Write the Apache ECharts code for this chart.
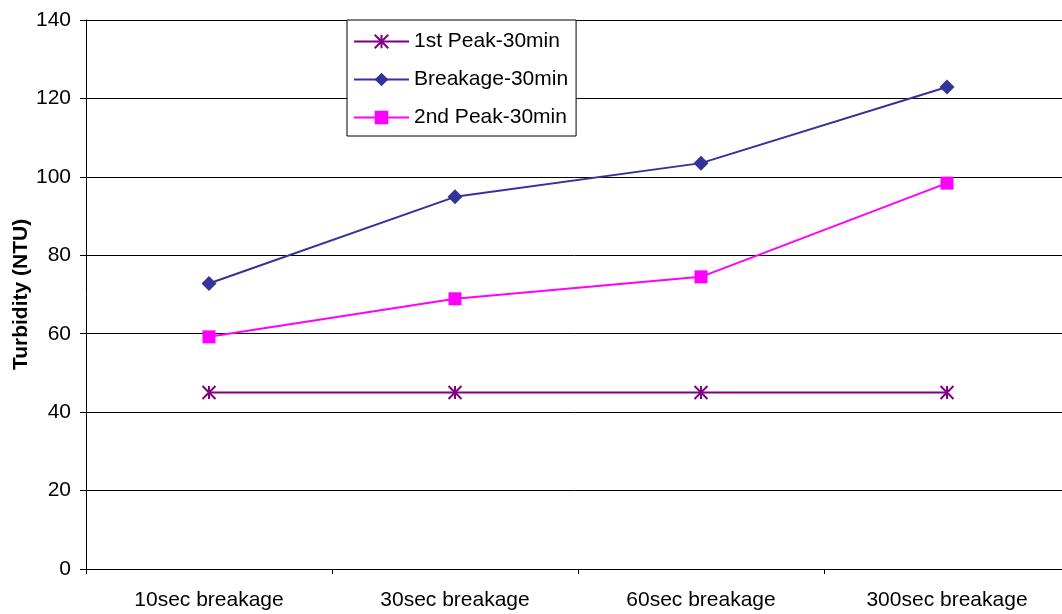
<!DOCTYPE html>
<html>
<head>
<meta charset="utf-8">
<script src="https://cdn.jsdelivr.net/npm/echarts@6/dist/echarts.min.js"></script>
<style>
  html, body { margin: 0; padding: 0; background: #fff; }
  #chart { width: 1062px; height: 614px; }
</style>
</head>
<body>
<div id="chart"></div>
<script>
// Breakage duration categories
const categories = ['10sec breakage', '30sec breakage', '60sec breakage', '300sec breakage'];

// Turbidity readings (NTU)
const firstPeak30 = [45, 45, 45, 45];
const breakage30 = [72.8, 94.9, 103.5, 122.9];
const secondPeak30 = [59.2, 68.9, 74.5, 98.4];

// Y axis scale
const yMin = 0;
const yMax = 140;
const yStep = 20;

const FONT = '"Liberation Sans", Arial, sans-serif';

// Excel-style asterisk marker: two diagonals and a vertical stroke
const asterisk = 'path://M0,0 L12,12 M12,0 L0,12 M6,0 L6,12';

const chart = echarts.init(document.getElementById('chart'), null, { renderer: 'canvas' });

chart.setOption({
  animation: false,
  backgroundColor: '#ffffff',
  textStyle: { fontFamily: FONT },
  grid: { left: 86, top: 20, width: 984, bottom: 45, containLabel: false, outerBoundsMode: 'none' },
  legend: {
    orient: 'vertical',
    left: 347,
    top: 20,
    padding: [11, 8, 8, 6],
    itemWidth: 55,
    itemHeight: 17,
    itemGap: 17,
    backgroundColor: '#ffffff',
    borderColor: '#000000',
    borderWidth: 1,
    borderRadius: 0,
    textStyle: { fontFamily: FONT, fontSize: 21, color: '#000' },
    data: ['1st Peak-30min', 'Breakage-30min', '2nd Peak-30min']
  },
  xAxis: {
    type: 'category',
    data: categories,
    boundaryGap: true,
    axisLine: { lineStyle: { color: '#000', width: 1 } },
    axisTick: { show: true, alignWithLabel: false, length: 5, lineStyle: { color: '#000' } },
    axisLabel: { fontFamily: FONT, fontSize: 21, color: '#000', margin: 21 },
    splitLine: { show: false }
  },
  yAxis: {
    type: 'value',
    min: yMin,
    max: yMax,
    interval: yStep,
    name: 'Turbidity (NTU)',
    nameLocation: 'middle',
    nameRotate: 90,
    nameGap: 54,
    nameMoveOverlap: false,
    nameTextStyle: { fontFamily: FONT, fontSize: 21, fontWeight: 'bold', color: '#000' },
    axisLine: { show: true, lineStyle: { color: '#000', width: 1 } },
    axisTick: { show: true, length: 6, lineStyle: { color: '#000' } },
    axisLabel: { fontFamily: FONT, fontSize: 21, color: '#000', margin: 15 },
    splitLine: { show: true, lineStyle: { color: '#000', width: 1 } }
  },
  series: [
    {
      name: '1st Peak-30min',
      type: 'line',
      data: firstPeak30,
      symbol: asterisk,
      symbolSize: 13,
      showSymbol: true,
      lineStyle: { color: '#800080', width: 2 },
      itemStyle: { color: '#800080', borderColor: '#800080', borderWidth: 2 },
      emphasis: { disabled: true },
      z: 3
    },
    {
      name: 'Breakage-30min',
      type: 'line',
      data: breakage30,
      symbol: 'diamond',
      symbolSize: 15,
      showSymbol: true,
      lineStyle: { color: '#333399', width: 2 },
      itemStyle: { color: '#333399', borderWidth: 0 },
      emphasis: { disabled: true },
      z: 3
    },
    {
      name: '2nd Peak-30min',
      type: 'line',
      data: secondPeak30,
      symbol: 'rect',
      symbolSize: 13,
      showSymbol: true,
      lineStyle: { color: '#ff00ff', width: 2 },
      itemStyle: { color: '#ff00ff', borderWidth: 0 },
      emphasis: { disabled: true },
      z: 3
    }
  ]
});
</script>
</body>
</html>
